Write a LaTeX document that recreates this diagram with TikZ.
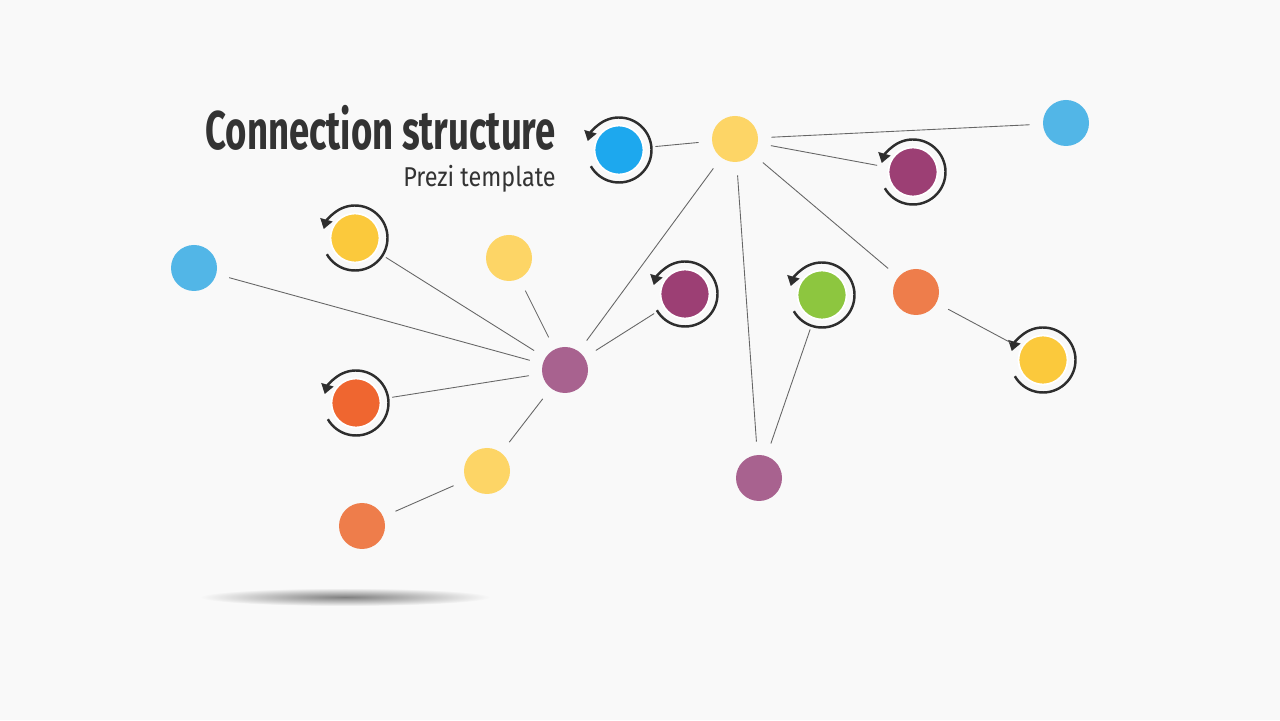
\documentclass[tikz,border=0pt]{standalone}
\usepackage{fontspec}
\usepackage{tikz}
\usetikzlibrary{arrows.meta}
\newfontfamily\titlefont[FakeStretch=0.67]{Fira Sans}
\newfontfamily\subfont[FakeStretch=0.86]{Fira Sans}
\definecolor{bgcol}{HTML}{F9F9F9}
\definecolor{linecol}{HTML}{666666}
\definecolor{ringcol}{HTML}{2E2E2E}
\definecolor{titlecol}{HTML}{333333}
\definecolor{softyellow}{HTML}{FDD566}
\definecolor{deepyellow}{HTML}{FBC93C}
\definecolor{softblue}{HTML}{52B6E7}
\definecolor{deepblue}{HTML}{1DA8EE}
\definecolor{plum}{HTML}{9C3F74}
\definecolor{mauve}{HTML}{A8628F}
\definecolor{leaf}{HTML}{8DC63F}
\definecolor{softorange}{HTML}{EE7D4B}
\definecolor{deeporange}{HTML}{EF6630}
\tikzset{
  dot/.style={circle, fill=#1, minimum size=0.92cm, inner sep=0pt, outer sep=0.27cm},
  ringdot/.style={circle, fill=#1, draw=white, line width=1pt, minimum size=0.98cm, inner sep=0pt, outer sep=0.24cm},
  link/.style={draw=linecol, line width=0.5pt},
  turn/.style={draw=ringcol, line width=1.4pt, -{Triangle[length=5.5pt,width=7pt]}},
}
\begin{document}
\begin{tikzpicture}
        \useasboundingbox (0,0) rectangle (25.6,14.4);
        \fill [bgcol] (0,0) rectangle (25.6,14.4);                          % page
        \shade [inner color=black!50, outer color=bgcol] (6.9,2.46) ellipse (2.9 and 0.18); % shadow
        \node [anchor=base east, inner sep=0pt, text=titlecol,
               font=\titlefont\bfseries\fontsize{31}{31}\selectfont] (title) at (11.12,11.40) {Connection structure};
        \node [anchor=base east, inner sep=0pt, text=titlecol,
               font=\subfont\fontsize{15.5}{15.5}\selectfont] (subtitle) at (11.12,10.66) {Prezi template};
        \node [dot=softyellow]  (hubTop)      at (14.70,11.62) {};           % top hub
        \node [dot=mauve]       (hubMid)      at (11.30,7.00)  {};           % middle hub
        \node [ringdot=deepblue]   (blueArc)     at (12.38,11.40) {};
        \node [dot=softblue]       (blueTR)      at (21.32,11.94) {};
        \node [ringdot=plum]       (plumArcTR)   at (18.26,10.96) {};
        \node [ringdot=deepyellow] (yellowArcL)  at (7.10,9.64)   {};
        \node [dot=softblue]       (blueL)       at (3.88,9.04)   {};
        \node [dot=softyellow]     (yellowA)     at (10.18,9.24)  {};
        \node [ringdot=plum]       (plumArcM)    at (13.70,8.52)  {};
        \node [ringdot=leaf]       (leafArc)     at (16.44,8.50)  {};
        \node [dot=softorange]     (orangeR)     at (18.32,8.56)  {};
        \node [ringdot=deepyellow] (yellowArcR)  at (20.86,7.20)  {};
        \node [ringdot=deeporange] (orangeArc)   at (7.12,6.34)   {};
        \node [dot=softyellow]     (yellowB)     at (9.74,4.98)   {};
        \node [dot=softorange]     (orangeB)     at (7.24,3.88)   {};
        \node [dot=mauve]          (mauveB)      at (15.18,4.84)  {};
        % turning arrows round the ringed dots
        \foreach \n in {blueArc,plumArcTR,yellowArcL,plumArcM,leafArc,yellowArcR,orangeArc}
          \draw [turn] ([shift={(-150:0.65)}]\n.center) arc [start angle=-150, end angle=164, radius=0.65];
        % links
        \draw [link] (blueArc) -- (hubTop);
        \draw [link] (hubTop)  -- (blueTR);
        \draw [link] (hubTop)  -- (plumArcTR);
        \draw [link] (hubTop)  -- (hubMid);
        \draw [link] (hubTop)  -- (mauveB);
        \draw [link] (hubTop)  -- (orangeR);
        \draw [link] (orangeR) -- (yellowArcR);
        \draw [link] (leafArc) -- (mauveB);
        \draw [link] (hubMid)  -- (blueL);
        \draw [link] (hubMid)  -- (yellowArcL);
        \draw [link] (hubMid)  -- (yellowA);
        \draw [link] (hubMid)  -- (plumArcM);
        \draw [link] (hubMid)  -- (orangeArc);
        \draw [link] (hubMid)  -- (yellowB);
        \draw [link] (yellowB) -- (orangeB);
\end{tikzpicture}
\end{document}
